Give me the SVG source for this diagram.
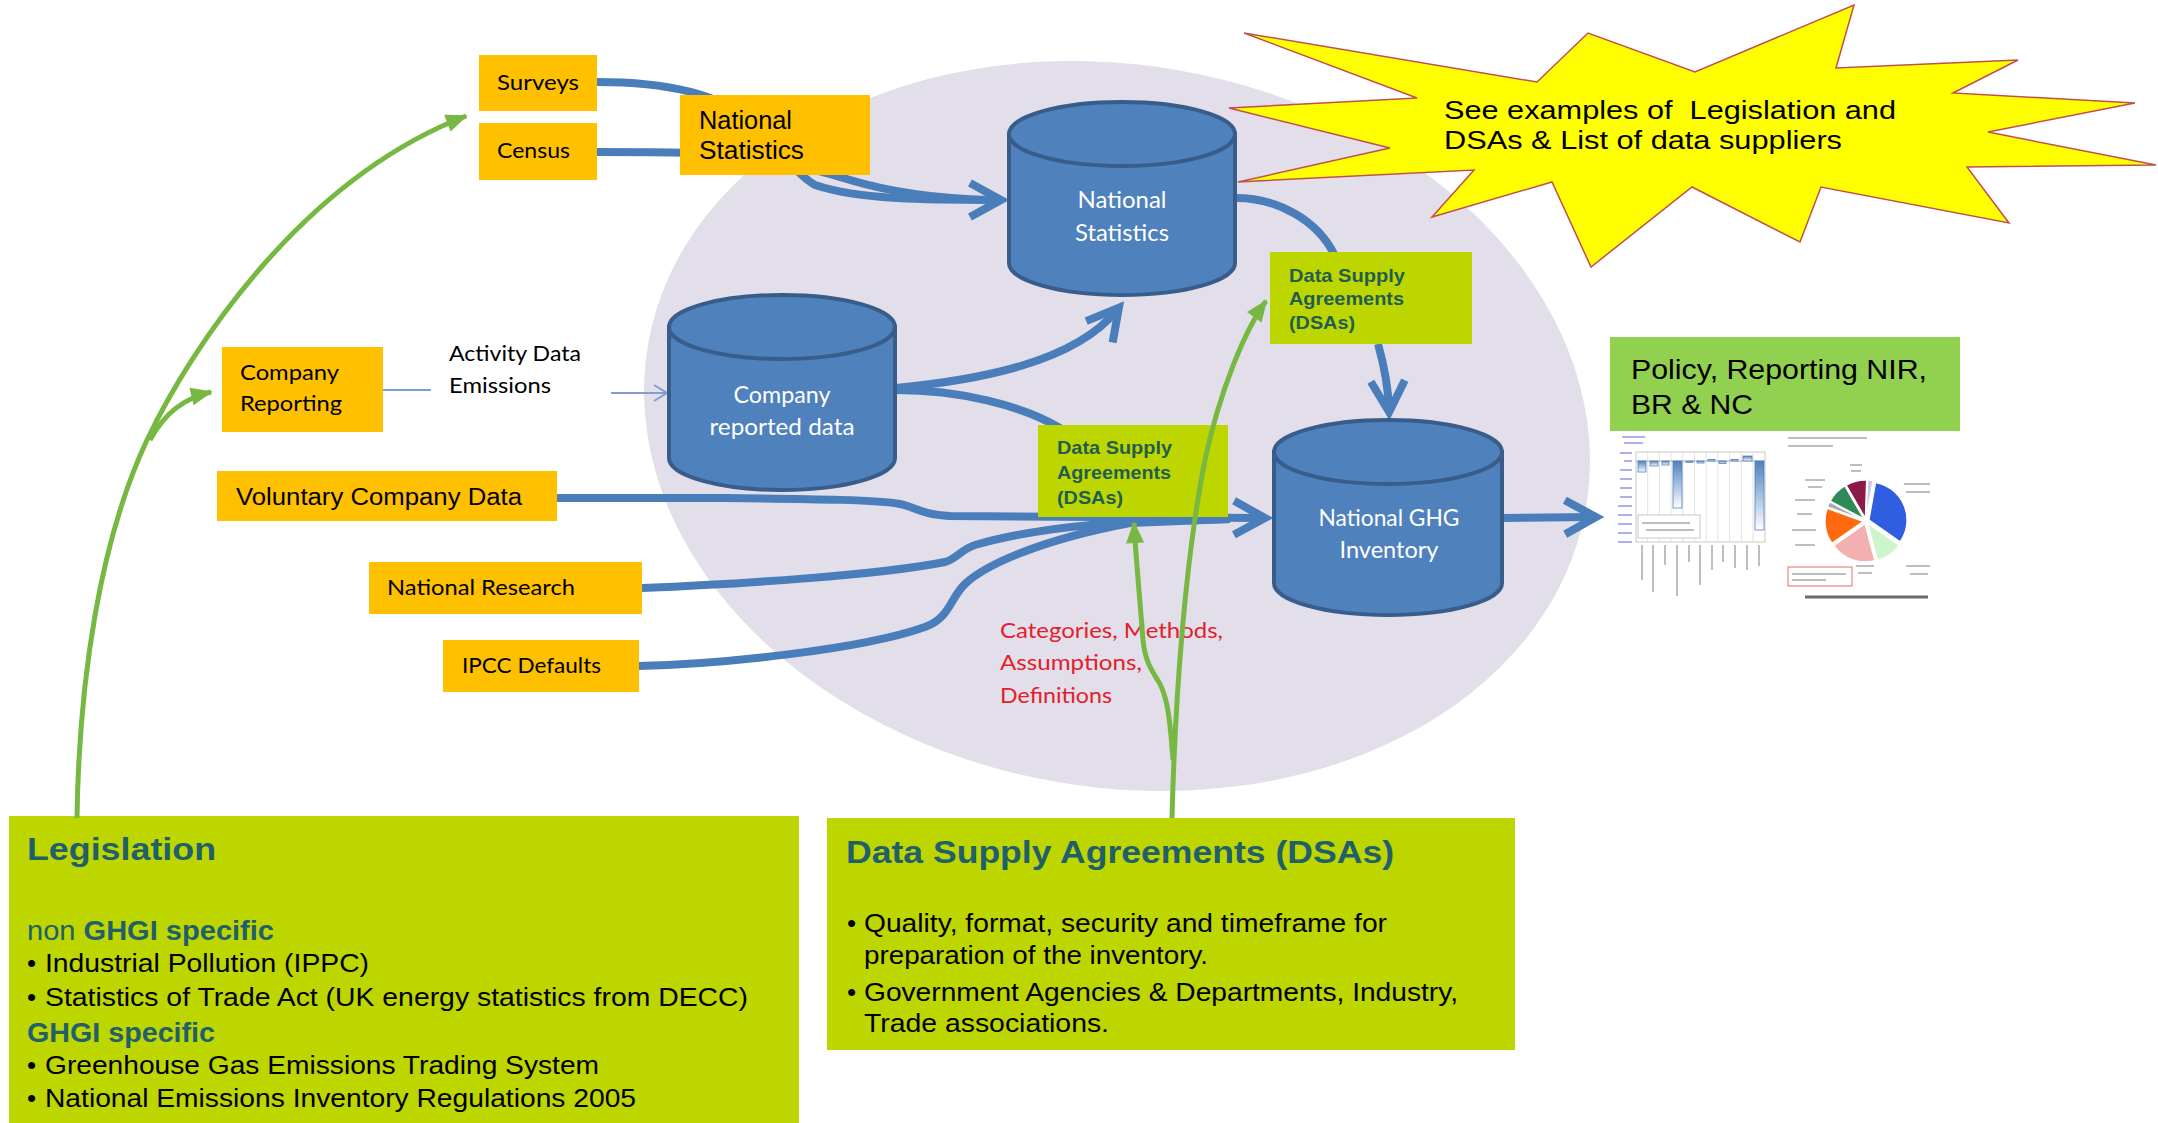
<svg xmlns="http://www.w3.org/2000/svg" width="2158" height="1123" viewBox="0 0 2158 1123">
<defs>
<style>
.orange{fill:#FFC000}
.lime{fill:#BED600}
.cyl{fill:#4F81BD;stroke:#385D8A;stroke-width:4}
.cal{font-family:Lato,'Liberation Sans',sans-serif}
.ari{font-family:'Liberation Sans',Arial,sans-serif}
.blk{fill:#000000}
.wht{fill:#FFFFFF}
.dsa{font-family:'Liberation Sans',Arial,sans-serif;font-weight:bold;font-size:19px;fill:#1F5E50}
.head{font-family:'Liberation Sans',Arial,sans-serif;font-weight:bold;fill:#215F6B}
.blue{fill:none;stroke:#4A7EBB;stroke-width:8}
.green{fill:none;stroke:#77B843;stroke-width:5}
.red{fill:#E3202B}
.tick{stroke:#7B7BE6;stroke-width:2;opacity:0.6}
.lbl{stroke:#8A8A8A;stroke-width:2;opacity:0.55}
</style>
<marker id="chev" markerUnits="userSpaceOnUse" markerWidth="60" markerHeight="60" viewBox="-40 -30 60 60" refX="0" refY="0" orient="auto">
<path d="M-28,-17 L3,0 L-28,17" fill="none" stroke="#4A7EBB" stroke-width="8"/>
</marker>
<marker id="thin" markerUnits="userSpaceOnUse" markerWidth="30" markerHeight="30" viewBox="-20 -15 30 30" refX="0" refY="0" orient="auto">
<path d="M-13,-8 L0,0 L-13,8" fill="none" stroke="#7F9FD0" stroke-width="2"/>
</marker>
<marker id="gtri" markerUnits="userSpaceOnUse" markerWidth="40" markerHeight="40" viewBox="-30 -20 40 40" refX="0" refY="0" orient="auto">
<path d="M-20,-9 L2,0 L-20,9 Z" fill="#77B843"/>
</marker>
<linearGradient id="barg" x1="0" y1="0" x2="0" y2="1">
<stop offset="0" stop-color="#4F81BD"/>
<stop offset="1" stop-color="#FFFFFF"/>
</linearGradient>
</defs>

<rect x="0" y="0" width="2158" height="1123" fill="#FFFFFF"/>

<g id="background-ellipse">
<ellipse cx="1117" cy="426" rx="476" ry="361" transform="rotate(10 1117 426)" fill="#E2DEEA"/>
</g>

<g id="callout-star">
<polygon points="1244,33 1537,82 1588,33 1695,72 1854,5 1836,68 2018,60 1953,93 2135,103 1988,132 2156,165 1967,167 2009,223 1821,187 1800,242 1692,187 1591,267 1552,182 1432,217 1474,170 1238,182 1390,148 1229,108 1417,98" fill="#FFFF00" stroke="#C0504D" stroke-width="1.5"/>
<text class="ari blk" font-size="25" xml:space="preserve"><tspan x="1444" y="119" textLength="452" lengthAdjust="spacingAndGlyphs">See examples of  Legislation and</tspan><tspan x="1444" y="149" textLength="398" lengthAdjust="spacingAndGlyphs">DSAs &amp; List of data suppliers</tspan></text>
</g>

<g id="connectors-blue">
<path class="blue" d="M597,82 C670,82 720,95 750,120 C775,140 790,170 815,185 C860,200 930,200 998,200" marker-end="url(#chev)"/>
<path class="blue" d="M597,152 C660,152 720,152 760,158 C800,165 825,172 850,180 C900,195 950,199 990,200"/>
<path class="blue" d="M1236,198 C1280,198 1318,222 1334,254"/>
<path class="blue" d="M1378,344 C1384,365 1388,385 1389,409" marker-end="url(#chev)"/>
<path class="blue" d="M896,388 C980,380 1075,362 1117,310" marker-end="url(#chev)"/>
<path class="blue" d="M896,390 C960,390 1020,405 1060,428 C1080,440 1090,460 1100,480"/>
<path class="blue" d="M557,498 L724,498 C820,499 880,500 900,504 C915,507 920,514 950,516 L1262,518" marker-end="url(#chev)"/>
<path class="blue" d="M642,588 C740,584 880,575 945,562 C958,558 960,550 975,545 C1020,532 1080,525 1130,522 L1230,519"/>
<path class="blue" d="M638,666 C720,664 860,650 925,627 C950,618 950,598 965,584 C985,565 1040,540 1130,523 L1230,519"/>
<path class="blue" d="M1502,518 L1593,517" marker-end="url(#chev)"/>
<path d="M383,390 L431,390" fill="none" stroke="#7F9FD0" stroke-width="2"/>
<path d="M611,393 L667,393" fill="none" stroke="#7F9FD0" stroke-width="2" marker-end="url(#thin)"/>
</g>

<g id="node-surveys">
<rect class="orange" x="479" y="55" width="118" height="56"/>
<text class="cal blk" font-size="22" x="497" y="90" textLength="82" lengthAdjust="spacingAndGlyphs">Surveys</text>
</g>
<g id="node-census">
<rect class="orange" x="479" y="123" width="118" height="57"/>
<text class="cal blk" font-size="22" x="497" y="158" textLength="73" lengthAdjust="spacingAndGlyphs">Census</text>
</g>
<g id="node-national-statistics-source">
<rect class="orange" x="680" y="95" width="190" height="80"/>
<text class="ari blk" font-size="25"><tspan x="699" y="129" textLength="93" lengthAdjust="spacingAndGlyphs">National</tspan><tspan x="699" y="159" textLength="105" lengthAdjust="spacingAndGlyphs">Statistics</tspan></text>
</g>
<g id="node-company-reporting">
<rect class="orange" x="222" y="347" width="161" height="85"/>
<text class="cal blk" font-size="22"><tspan x="240" y="380" textLength="99" lengthAdjust="spacingAndGlyphs">Company</tspan><tspan x="240" y="411" textLength="102" lengthAdjust="spacingAndGlyphs">Reporting</tspan></text>
</g>
<g id="label-activity-data">
<text class="cal blk" font-size="22"><tspan x="449" y="361" textLength="132" lengthAdjust="spacingAndGlyphs">Activity Data</tspan><tspan x="449" y="393" textLength="102" lengthAdjust="spacingAndGlyphs">Emissions</tspan></text>
</g>
<g id="node-voluntary-company-data">
<rect class="orange" x="217" y="471" width="340" height="50"/>
<text class="ari blk" font-size="23" x="236" y="505" textLength="286" lengthAdjust="spacingAndGlyphs">Voluntary Company Data</text>
</g>
<g id="node-national-research">
<rect class="orange" x="369" y="562" width="273" height="52"/>
<text class="cal blk" font-size="22" x="387" y="595" textLength="188" lengthAdjust="spacingAndGlyphs">National Research</text>
</g>
<g id="node-ipcc-defaults">
<rect class="orange" x="443" y="640" width="196" height="52"/>
<text class="cal blk" font-size="22" x="462" y="673" textLength="139" lengthAdjust="spacingAndGlyphs">IPCC Defaults</text>
</g>

<g id="node-national-statistics-db">
<path class="cyl" d="M1009,134 L1009,263 A113,32 0 0 0 1235,263 L1235,134 Z"/>
<ellipse class="cyl" cx="1122" cy="134" rx="113" ry="32"/>
<text class="cal wht" font-size="24" text-anchor="middle"><tspan x="1122" y="208" textLength="89" lengthAdjust="spacingAndGlyphs">National</tspan><tspan x="1122" y="241" textLength="94" lengthAdjust="spacingAndGlyphs">Statistics</tspan></text>
</g>
<g id="node-company-reported-data">
<path class="cyl" d="M669,327 L669,458 A113,32 0 0 0 895,458 L895,327 Z"/>
<ellipse class="cyl" cx="782" cy="327" rx="113" ry="32"/>
<text class="cal wht" font-size="24" text-anchor="middle"><tspan x="782" y="403" textLength="97" lengthAdjust="spacingAndGlyphs">Company</tspan><tspan x="782" y="435" textLength="145" lengthAdjust="spacingAndGlyphs">reported data</tspan></text>
</g>
<g id="node-national-ghg-inventory">
<path class="cyl" d="M1274,452 L1274,583 A114,32 0 0 0 1502,583 L1502,452 Z"/>
<ellipse class="cyl" cx="1388" cy="452" rx="114" ry="32"/>
<text class="cal wht" font-size="24" text-anchor="middle"><tspan x="1389" y="526" textLength="141" lengthAdjust="spacingAndGlyphs">National GHG</tspan><tspan x="1389" y="558" textLength="99" lengthAdjust="spacingAndGlyphs">Inventory</tspan></text>
</g>

<g id="node-dsa-top">
<rect class="lime" x="1270" y="252" width="202" height="92"/>
<text class="dsa"><tspan x="1289" y="282" textLength="116" lengthAdjust="spacingAndGlyphs">Data Supply</tspan><tspan x="1289" y="305" textLength="115" lengthAdjust="spacingAndGlyphs">Agreements</tspan><tspan x="1289" y="329" textLength="66" lengthAdjust="spacingAndGlyphs">(DSAs)</tspan></text>
</g>
<g id="node-dsa-middle">
<rect class="lime" x="1038" y="425" width="190" height="92"/>
<text class="dsa"><tspan x="1057" y="454" textLength="115" lengthAdjust="spacingAndGlyphs">Data Supply</tspan><tspan x="1057" y="479" textLength="114" lengthAdjust="spacingAndGlyphs">Agreements</tspan><tspan x="1057" y="504" textLength="66" lengthAdjust="spacingAndGlyphs">(DSAs)</tspan></text>
</g>

<g id="node-policy-reporting">
<rect x="1610" y="337" width="350" height="94" fill="#92D050"/>
<text class="ari blk" font-size="28"><tspan x="1631" y="379" textLength="296" lengthAdjust="spacingAndGlyphs">Policy, Reporting NIR,</tspan><tspan x="1631" y="414" textLength="122" lengthAdjust="spacingAndGlyphs">BR &amp; NC</tspan></text>
</g>

<g id="chart-image">
<line class="tick" x1="1622" y1="437" x2="1645" y2="437"/>
<line class="tick" x1="1624" y1="443" x2="1643" y2="443"/>
<rect x="1636" y="452" width="129" height="90" fill="#FFFFFF" stroke="#C8C8C8" stroke-width="1"/>
<g stroke="#E2E2E2" stroke-width="1">
<line x1="1647.7" y1="452" x2="1647.7" y2="542"/><line x1="1659.4" y1="452" x2="1659.4" y2="542"/>
<line x1="1671.1" y1="452" x2="1671.1" y2="542"/><line x1="1682.8" y1="452" x2="1682.8" y2="542"/>
<line x1="1694.5" y1="452" x2="1694.5" y2="542"/><line x1="1706.2" y1="452" x2="1706.2" y2="542"/>
<line x1="1717.9" y1="452" x2="1717.9" y2="542"/><line x1="1729.6" y1="452" x2="1729.6" y2="542"/>
<line x1="1741.3" y1="452" x2="1741.3" y2="542"/><line x1="1753" y1="452" x2="1753" y2="542"/>
</g>
<line x1="1636" y1="461" x2="1765" y2="461" stroke="#9A9A9A" stroke-width="0.8"/>
<g class="tick">
<line x1="1620" y1="453" x2="1632" y2="453"/><line x1="1624" y1="461" x2="1632" y2="461"/>
<line x1="1620" y1="470" x2="1632" y2="470"/><line x1="1620" y1="479" x2="1632" y2="479"/>
<line x1="1620" y1="488" x2="1632" y2="488"/><line x1="1620" y1="497" x2="1632" y2="497"/>
<line x1="1618" y1="506" x2="1632" y2="506"/><line x1="1618" y1="515" x2="1632" y2="515"/>
<line x1="1618" y1="524" x2="1632" y2="524"/><line x1="1618" y1="533" x2="1632" y2="533"/>
<line x1="1618" y1="542" x2="1632" y2="542"/>
</g>
<g fill="url(#barg)" stroke="#4F81BD" stroke-width="0.8">
<rect x="1638" y="461" width="8" height="11"/>
<rect x="1650" y="461" width="8" height="5"/>
<rect x="1662" y="461" width="7" height="4"/>
<rect x="1673" y="461" width="9" height="47"/>
<rect x="1686" y="461" width="7" height="1.5"/>
<rect x="1697" y="461" width="7" height="2"/>
<rect x="1708" y="459.5" width="7" height="1.5"/>
<rect x="1719" y="461" width="7" height="2.5"/>
<rect x="1731" y="459.5" width="7" height="1.5"/>
<rect x="1743" y="456" width="9" height="5"/>
<rect x="1755" y="461" width="9" height="69"/>
</g>
<rect x="1638" y="515" width="62" height="23" fill="#FFFFFF" stroke="#BBBBBB" stroke-width="0.8"/>
<line class="lbl" x1="1642" y1="523" x2="1690" y2="523"/>
<line class="lbl" x1="1646" y1="530" x2="1694" y2="530"/>
<g class="lbl">
<line x1="1642" y1="545" x2="1642" y2="580"/><line x1="1653" y1="545" x2="1653" y2="592"/>
<line x1="1665" y1="545" x2="1665" y2="565"/><line x1="1677" y1="545" x2="1677" y2="596"/>
<line x1="1689" y1="545" x2="1689" y2="562"/><line x1="1700" y1="545" x2="1700" y2="585"/>
<line x1="1712" y1="545" x2="1712" y2="570"/><line x1="1723" y1="545" x2="1723" y2="562"/>
<line x1="1735" y1="545" x2="1735" y2="568"/><line x1="1747" y1="545" x2="1747" y2="570"/>
<line x1="1759" y1="545" x2="1759" y2="566"/>
</g>
<line class="lbl" x1="1788" y1="438" x2="1867" y2="438"/>
<line class="lbl" x1="1788" y1="446" x2="1833" y2="446"/>
<g stroke="#FFFFFF" stroke-width="1.2">
<path d="M1869,520 L1875.6,482.6 A38,38 0 0 1 1900.1,541.8 Z" fill="#2F5FE0"/>
<path d="M1867.7,523.5 L1899.1,545.3 A38,38 0 0 1 1877.5,560.2 Z" fill="#CCF5CC"/>
<path d="M1865,523.8 L1874.8,560.5 A38,38 0 0 1 1833.9,545.6 Z" fill="#F4B0B0"/>
<path d="M1863,521.4 L1831.9,543.2 A38,38 0 0 1 1827.3,508.4 Z" fill="#FF6A10"/>
<path d="M1863.3,519.8 L1827.6,506.8 A38,38 0 0 1 1829.7,502 Z" fill="#A8A8A8"/>
<path d="M1863.8,518.9 L1830.2,501.1 A38,38 0 0 1 1844.8,486 Z" fill="#2E8B57"/>
<path d="M1865.3,518.1 L1846.3,485.2 A38,38 0 0 1 1866.6,480.1 Z" fill="#8B1A4A"/>
<path d="M1866.3,518 L1867.6,480 A38,38 0 0 1 1872.9,480.6 Z" fill="#C8C8E8"/>
</g>
<g class="lbl">
<line x1="1904" y1="484" x2="1930" y2="484"/><line x1="1906" y1="492" x2="1930" y2="492"/>
<line x1="1906" y1="566" x2="1930" y2="566"/><line x1="1910" y1="574" x2="1928" y2="574"/>
<line x1="1856" y1="566" x2="1874" y2="566"/><line x1="1858" y1="573" x2="1872" y2="573"/>
<line x1="1805" y1="480" x2="1825" y2="480"/><line x1="1808" y1="487" x2="1822" y2="487"/>
<line x1="1795" y1="500" x2="1815" y2="500"/><line x1="1797" y1="514" x2="1812" y2="514"/>
<line x1="1792" y1="530" x2="1816" y2="530"/><line x1="1795" y1="545" x2="1815" y2="545"/>
<line x1="1850" y1="465" x2="1862" y2="465"/><line x1="1851" y1="471" x2="1861" y2="471"/>
</g>
<rect x="1788" y="567" width="64" height="19" fill="none" stroke="#E06A6A" stroke-width="1"/>
<line class="lbl" x1="1792" y1="574" x2="1846" y2="574"/>
<line class="lbl" x1="1792" y1="580" x2="1826" y2="580"/>
<line x1="1805" y1="597" x2="1928" y2="597" stroke="#6A6A6A" stroke-width="3"/>
</g>

<g id="label-categories">
<text class="cal red" font-size="22"><tspan x="1000" y="638" textLength="223" lengthAdjust="spacingAndGlyphs">Categories, Methods,</tspan><tspan x="1000" y="670" textLength="142" lengthAdjust="spacingAndGlyphs">Assumptions,</tspan><tspan x="1000" y="703" textLength="112" lengthAdjust="spacingAndGlyphs">Definitions</tspan></text>
</g>

<g id="node-legislation">
<rect class="lime" x="9" y="816" width="790" height="307"/>
<text class="head" font-size="32" x="27" y="860" textLength="189" lengthAdjust="spacingAndGlyphs">Legislation</text>
<text class="head" font-size="27" x="27" y="940" textLength="247" lengthAdjust="spacingAndGlyphs"><tspan font-weight="normal">non</tspan> GHGI specific</text>
<text class="ari blk" font-size="26">
<tspan x="27" y="972">•</tspan><tspan x="45" y="972" textLength="324" lengthAdjust="spacingAndGlyphs">Industrial  Pollution  (IPPC)</tspan>
<tspan x="27" y="1006">•</tspan><tspan x="45" y="1006" textLength="703" lengthAdjust="spacingAndGlyphs">Statistics of Trade Act (UK energy statistics from DECC)</tspan>
<tspan x="27" y="1074">•</tspan><tspan x="45" y="1074" textLength="554" lengthAdjust="spacingAndGlyphs">Greenhouse Gas Emissions Trading System</tspan>
<tspan x="27" y="1107">•</tspan><tspan x="45" y="1107" textLength="591" lengthAdjust="spacingAndGlyphs">National Emissions Inventory Regulations 2005</tspan>
</text>
<text class="head" font-size="27" x="27" y="1042" textLength="188" lengthAdjust="spacingAndGlyphs">GHGI specific</text>
</g>

<g id="node-dsa-box">
<rect class="lime" x="827" y="818" width="688" height="232"/>
<text class="head" font-size="31" x="846" y="863" textLength="548" lengthAdjust="spacingAndGlyphs">Data Supply Agreements (DSAs)</text>
<text class="ari blk" font-size="26">
<tspan x="847" y="932">•</tspan><tspan x="864" y="932" textLength="523" lengthAdjust="spacingAndGlyphs">Quality,  format, security and timeframe for</tspan>
<tspan x="864" y="964" textLength="344" lengthAdjust="spacingAndGlyphs">preparation of the inventory.</tspan>
<tspan x="847" y="1001">•</tspan><tspan x="864" y="1001" textLength="594" lengthAdjust="spacingAndGlyphs">Government Agencies &amp; Departments, Industry,</tspan>
<tspan x="864" y="1032" textLength="245" lengthAdjust="spacingAndGlyphs">Trade associations.</tspan>
</text>
</g>

<g id="connectors-green">
<path class="green" d="M77,818 C79,680 100,540 147,440 C190,350 300,180 466,116" marker-end="url(#gtri)"/>
<path class="green" d="M150,440 C165,412 185,398 211,392" marker-end="url(#gtri)"/>
<path class="green" d="M1172,818 C1175,700 1185,560 1205,460 C1220,390 1245,330 1266,301" marker-end="url(#gtri)"/>
<path class="green" d="M1173,760 C1170,720 1168,700 1160,684 C1150,668 1145,660 1143,640 C1140,600 1136,560 1134,523" marker-end="url(#gtri)"/>
</g>
</svg>
